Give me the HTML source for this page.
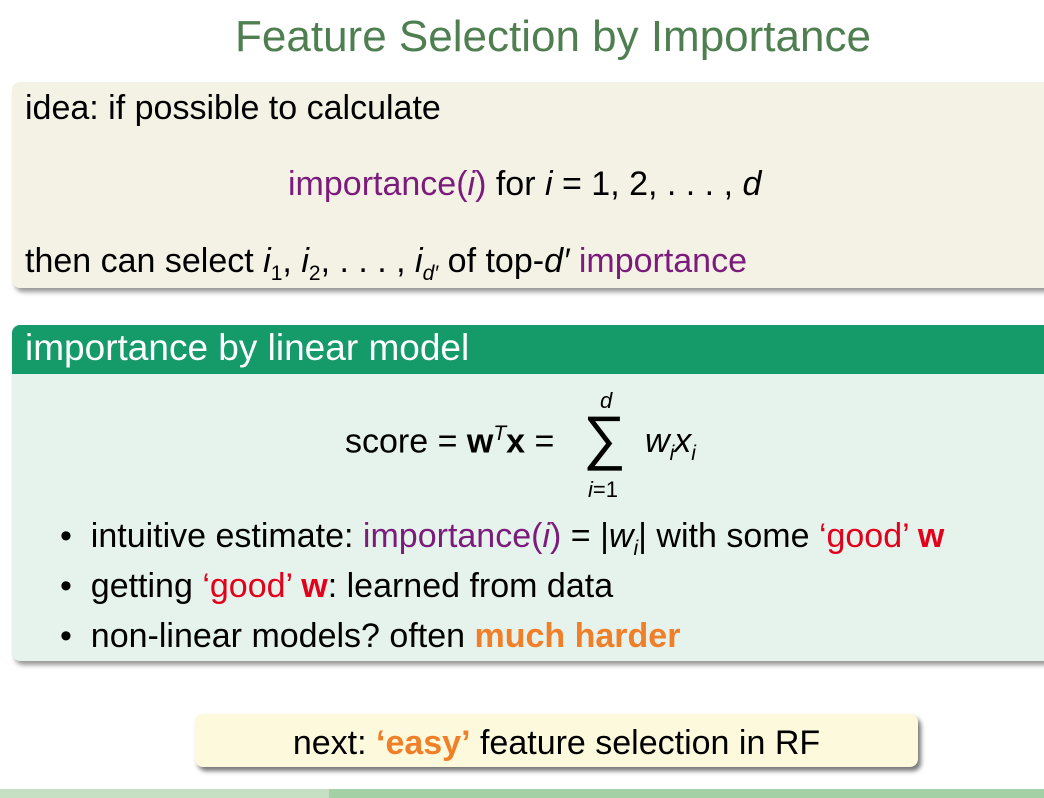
<!DOCTYPE html>
<html><head><style>
body{margin:0;width:1044px;height:798px;background:#fff;position:relative;overflow:hidden;font-family:"Liberation Sans",sans-serif;color:#000}
.a{position:absolute;white-space:nowrap}
i{font-family:"Liberation Sans",sans-serif}
.p{color:#7b1b7b}.r{color:#e3001b}.o{color:#f07f2a;font-weight:bold}
sub{font-size:21px}
</style></head><body>
<div class="a" style="left:0;width:1044px;top:12px;text-align:center;padding-left:62px;box-sizing:border-box;font-size:44px;color:#4f7f50">Feature Selection by Importance</div>
<div class="a" style="left:12px;top:82px;width:1040px;height:206px;background:#f4f1e5;border-radius:8px;box-shadow:3px 4px 5px #999"></div>
<div class="a" style="left:25px;top:89px;font-size:34px">idea: if possible to calculate</div>
<div class="a" style="left:288px;top:165px;font-size:34px"><span class="p">importance(<i>i</i>)</span> for <i>i</i> = 1, 2, . . . , <i>d</i></div>
<div class="a" style="left:25px;top:242px;font-size:34px">then can select <i>i</i><sub>1</sub>, <i>i</i><sub>2</sub>, . . . , <i>i</i><sub><i>d′</i></sub> of top-<i>d′</i> <span class="p">importance</span></div>
<div class="a" style="left:12px;top:325px;width:1040px;height:336px;background:#e6f2ec;border-radius:8px;box-shadow:3px 4px 5px #999;overflow:hidden"><div style="height:49px;background:#159a69"></div></div>
<div class="a" style="left:25px;top:327px;font-size:37px;color:#fff">importance by linear model</div>
<div class="a" style="left:345px;top:422px;font-size:34px">score = <b>w</b><sup style="font-size:21px"><i>T</i></sup><b>x</b> =</div>
<div class="a" style="left:583px;top:405px;font-size:60px;line-height:66px">∑</div>
<div class="a" style="left:600px;top:388px;font-size:22px"><i>d</i></div>
<div class="a" style="left:588px;top:477px;font-size:22px"><i>i</i>=1</div>
<div class="a" style="left:645px;top:422px;font-size:34px"><i>w<sub>i</sub>x<sub>i</sub></i></div>
<div class="a" style="left:60px;top:517px;font-size:34px">• &nbsp;intuitive estimate: <span class="p">importance(<i>i</i>)</span> = |<i>w<sub>i</sub></i>| with some <span class="r">‘good’ <b>w</b></span></div>
<div class="a" style="left:60px;top:567px;font-size:34px">• &nbsp;getting <span class="r">‘good’ <b>w</b></span>: learned from data</div>
<div class="a" style="left:60px;top:617px;font-size:34px">• &nbsp;non-linear models? often <span class="o">much harder</span></div>
<div class="a" style="left:195px;top:714px;width:723px;height:53px;background:#fdf9dc;border-radius:8px;box-shadow:3px 4px 5px #777"></div>
<div class="a" style="left:195px;width:723px;top:724px;text-align:center;font-size:34px">next: <span class="o">‘easy’</span> feature selection in RF</div>
<div class="a" style="left:0;top:789px;width:329px;height:9px;background:#c5e0c3"></div>
<div class="a" style="left:329px;top:789px;width:715px;height:9px;background:#a3d0a4"></div>
</body></html>
